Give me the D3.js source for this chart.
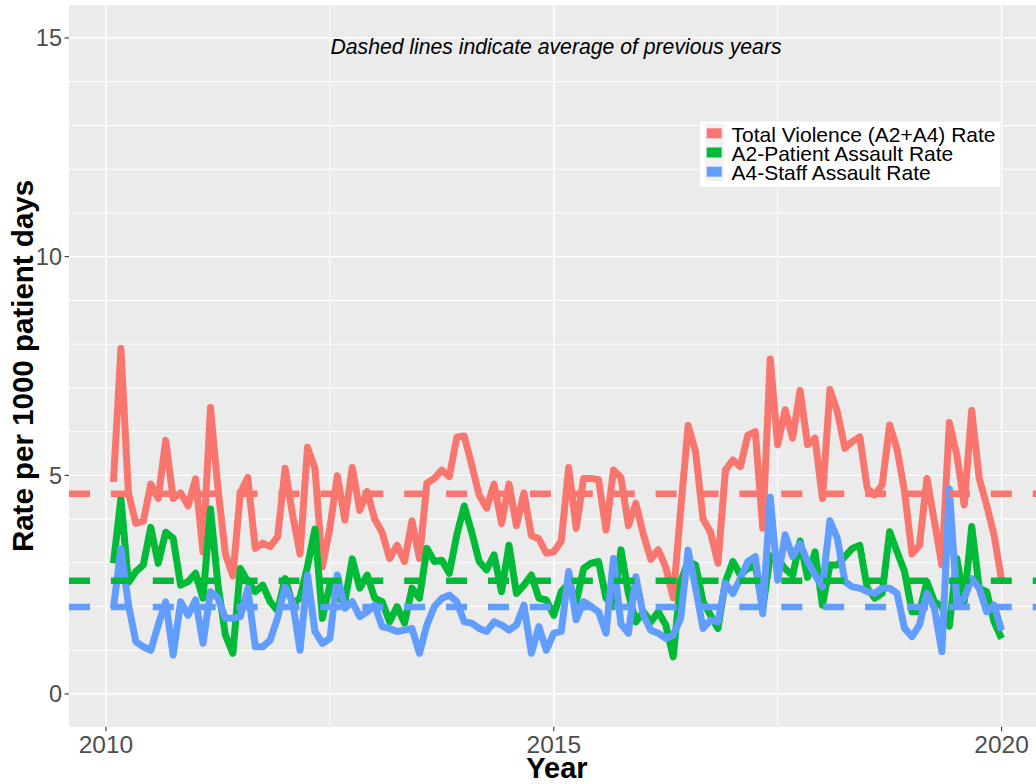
<!DOCTYPE html>
<html>
<head>
<meta charset="utf-8">
<script src="https://cdn.jsdelivr.net/npm/d3@7"></script>
<style>
  html, body { margin: 0; padding: 0; background: #ffffff; }
  svg { display: block; }
  text { font-family: "Liberation Sans", Arial, sans-serif; }
</style>
</head>
<body>
<div id="chart"></div>
<script>
// ---------------- DATA ----------------
const seriesNames = ["Total Violence (A2+A4) Rate", "A2-Patient Assault Rate", "A4-Staff Assault Rate"];
const seriesColors = ["#F8766D", "#00BA38", "#619CFF"];

// monthly rates, Feb 2010 .. Jan 2020
const totalRate = [
  4.85, 7.9, 4.6, 3.9, 3.95, 4.8, 4.47, 5.8, 4.47, 4.6, 4.3, 4.92,
  3.25, 6.55, 4.7, 3.2, 2.7, 4.6, 4.95, 3.33, 3.45, 3.37, 3.6, 5.16,
  4.1, 3.2, 5.64, 5.16, 2.91, 3.8, 4.99, 3.98, 5.18, 4.2, 4.63, 4.0,
  3.7, 3.1, 3.4, 3.03, 3.96, 3.1, 4.82, 4.93, 5.12, 4.97, 5.87, 5.9,
  5.24, 4.55, 4.25, 4.8, 3.9, 4.8, 3.85, 4.6, 3.62, 3.55, 3.22, 3.25,
  3.5, 5.18, 3.79, 4.93, 4.93, 4.9, 3.75, 5.12, 4.95, 3.85, 4.36, 3.65,
  3.08, 3.3, 2.9, 2.2, 4.2, 6.14, 5.54, 4.0, 3.7, 2.99, 5.12, 5.35,
  5.2, 5.92, 6.0, 3.79, 7.66, 5.7, 6.5, 5.85, 6.94, 5.7, 5.85, 4.47,
  6.96, 6.45, 5.62, 5.77, 5.88, 4.7, 4.55, 4.78, 6.15, 5.6, 4.63, 3.2,
  3.4, 4.93, 3.94, 2.95, 6.21, 5.47, 4.32, 6.48, 4.93, 4.32, 3.63, 2.6
];
const patientAssaultRate = [
  2.99, 4.46, 2.55, 2.8, 2.95, 3.81, 2.99, 3.7, 3.56, 2.49, 2.57, 2.76,
  2.19, 4.23, 2.5, 1.35, 0.93, 2.87, 2.57, 2.34, 2.49, 2.11, 1.9, 2.64,
  2.05, 2.2, 2.92, 3.77, 1.73, 2.5, 2.2, 2.1, 3.09, 2.42, 2.72, 2.19,
  2.11, 1.65, 2.0, 1.62, 2.42, 2.19, 3.33, 3.03, 3.06, 2.76, 3.64, 4.3,
  3.7, 3.03, 2.84, 3.18, 2.34, 3.4, 2.3, 2.49, 2.72, 2.19, 2.15, 1.8,
  2.34, 2.53, 2.1, 2.87, 2.99, 3.03, 2.19, 2.0, 3.3, 2.3, 1.65, 1.88,
  1.65, 1.88, 1.58, 0.85, 2.57, 3.03, 2.95, 2.11, 1.8, 1.5, 2.57, 3.03,
  2.72, 2.87, 2.95, 1.95, 3.16, 3.1, 2.86, 2.71, 3.5, 2.67, 3.25, 2.03,
  2.95, 2.95, 3.14, 3.33, 3.4, 2.42, 2.19, 2.3, 3.71, 3.25, 2.8, 1.88,
  1.88, 2.57, 2.11, 2.0, 1.55, 3.1, 2.11, 3.83, 2.42, 2.34, 1.65, 1.27
];
const staffAssaultRate = [
  1.96, 3.32, 2.05, 1.2, 1.08, 1.0, 1.58, 2.11, 0.89, 2.11, 1.8, 2.15,
  1.16, 2.34, 2.19, 1.73, 1.73, 1.77, 2.42, 1.08, 1.08, 1.23, 1.75, 2.45,
  2.11, 1.0, 2.72, 1.43, 1.16, 1.27, 2.72, 1.96, 2.11, 1.77, 1.88, 2.03,
  1.54, 1.5, 1.43, 1.46, 1.5, 0.93, 1.58, 2.0, 2.19, 2.26, 2.11, 1.65,
  1.62, 1.5, 1.43, 1.65, 1.58, 1.46, 1.58, 2.03, 0.93, 1.54, 1.0, 1.39,
  1.43, 2.8, 1.7, 2.11, 2.0, 1.88, 1.39, 3.1, 1.6, 1.39, 2.68, 1.8,
  1.46, 1.39, 1.27, 1.35, 1.73, 3.29, 2.42, 1.5, 1.69, 1.65, 2.53, 2.3,
  2.64, 3.03, 3.14, 1.84, 4.5, 2.6, 3.64, 3.14, 3.44, 3.03, 2.72, 2.45,
  3.96, 3.56, 2.57, 2.45, 2.42, 2.34, 2.3, 2.42, 2.42, 2.3, 1.5, 1.31,
  1.58, 2.3, 1.96, 0.97, 4.69, 2.11, 2.19, 2.64, 2.42, 1.88, 2.03, 1.45
];
// averages of previous years (dashed reference lines)
const averageRates = [4.58, 2.59, 1.99];

const startYear = 2010;
const xTickValues = [2010, 2015, 2020];
const xTickLabels = ["2010", "2015", "2020"];
const yTickValues = [0, 5, 10, 15];
const yTickLabels = ["0", "5", "10", "15"];
const annotationText = "Dashed lines indicate average of previous years";
const xTitle = "Year";
const yTitle = "Rate per 1000 patient days";

// ---------------- CHART ----------------
const W = 1036, H = 784;
const panel = { left: 69, right: 1046, top: 5.2, bottom: 726.8 };

const svg = d3.select("#chart").append("svg")
  .attr("width", W).attr("height", H);

const x = d3.scaleLinear().domain([2009.587, 2020.496]).range([panel.left, panel.right]);
const y = d3.scaleLinear().domain([-0.75, 15.75]).range([panel.bottom, panel.top]);

const defs = svg.append("defs");
defs.append("clipPath").attr("id", "clip").append("rect")
  .attr("x", panel.left).attr("y", panel.top)
  .attr("width", panel.right - panel.left).attr("height", panel.bottom - panel.top);

// panel background
svg.append("rect")
  .attr("x", panel.left).attr("y", panel.top)
  .attr("width", panel.right - panel.left).attr("height", panel.bottom - panel.top)
  .attr("fill", "#EBEBEB");

const grid = svg.append("g").attr("clip-path", "url(#clip)");
// minor horizontal grid (every unit)
const yMinor = d3.range(0, 16).filter(v => yTickValues.indexOf(v) < 0);
grid.selectAll(".ymin").data(yMinor).enter().append("line")
  .attr("x1", panel.left).attr("x2", panel.right)
  .attr("y1", d => y(d)).attr("y2", d => y(d))
  .attr("stroke", "#ffffff").attr("stroke-width", 1);
grid.selectAll(".ymaj").data(yTickValues).enter().append("line")
  .attr("x1", panel.left).attr("x2", panel.right)
  .attr("y1", d => y(d)).attr("y2", d => y(d))
  .attr("stroke", "#ffffff").attr("stroke-width", 1.4);
// vertical grid
const xMinor = [2012.5, 2017.5];
grid.selectAll(".xmin").data(xMinor).enter().append("line")
  .attr("y1", panel.top).attr("y2", panel.bottom)
  .attr("x1", d => x(d)).attr("x2", d => x(d))
  .attr("stroke", "#ffffff").attr("stroke-width", 1);
grid.selectAll(".xmaj").data(xTickValues).enter().append("line")
  .attr("y1", panel.top).attr("y2", panel.bottom)
  .attr("x1", d => x(d)).attr("x2", d => x(d))
  .attr("stroke", "#ffffff").attr("stroke-width", 1.4);

// data lines
const allSeries = [totalRate, patientAssaultRate, staffAssaultRate];
const line = d3.line()
  .x((d, i) => x(startYear + (i + 1) / 12))
  .y(d => y(d));

const plot = svg.append("g").attr("clip-path", "url(#clip)");
allSeries.forEach((s, k) => {
  plot.append("path")
    .datum(s)
    .attr("d", line)
    .attr("fill", "none")
    .attr("stroke", seriesColors[k])
    .attr("stroke-width", 7)
    .attr("stroke-linejoin", "round")
    .attr("stroke-linecap", "butt");
});

// dashed average lines
averageRates.forEach((v, k) => {
  plot.append("line")
    .attr("x1", panel.left).attr("x2", panel.right)
    .attr("y1", y(v)).attr("y2", y(v))
    .attr("stroke", seriesColors[k])
    .attr("stroke-width", 6.5)
    .attr("stroke-dasharray", "21 20.9");
});

// axes ticks
const yAxis = svg.append("g");
yTickValues.forEach((v, i) => {
  yAxis.append("line")
    .attr("x1", panel.left - 4.5).attr("x2", panel.left)
    .attr("y1", y(v)).attr("y2", y(v))
    .attr("stroke", "#333333").attr("stroke-width", 1.1);
  yAxis.append("text")
    .attr("x", panel.left - 7).attr("y", y(v))
    .attr("dy", "0.36em")
    .attr("text-anchor", "end")
    .attr("font-size", 23.5)
    .attr("fill", "#4D4D4D")
    .text(yTickLabels[i]);
});
const xAxis = svg.append("g");
xTickValues.forEach((v, i) => {
  xAxis.append("line")
    .attr("y1", panel.bottom).attr("y2", panel.bottom + 4.5)
    .attr("x1", x(v)).attr("x2", x(v))
    .attr("stroke", "#333333").attr("stroke-width", 1.1);
  xAxis.append("text")
    .attr("x", x(v)).attr("y", 753)
    .attr("text-anchor", "middle")
    .attr("font-size", 24.5)
    .attr("fill", "#4D4D4D")
    .text(xTickLabels[i]);
});

// axis titles
svg.append("text")
  .attr("x", 557).attr("y", 778)
  .attr("text-anchor", "middle")
  .attr("font-size", 29).attr("font-weight", "bold")
  .attr("fill", "#000000")
  .text(xTitle);
svg.append("text")
  .attr("transform", "translate(33," + ((panel.top + panel.bottom) / 2) + ") rotate(-90)")
  .attr("text-anchor", "middle")
  .attr("font-size", 29.5).attr("font-weight", "bold")
  .attr("fill", "#000000")
  .text(yTitle);

// annotation
svg.append("text")
  .attr("x", 556).attr("y", 54)
  .attr("text-anchor", "middle")
  .attr("font-size", 21.2).attr("font-style", "italic")
  .attr("fill", "#000000")
  .text(annotationText);

// legend
const legend = svg.append("g");
legend.append("rect")
  .attr("x", 700).attr("y", 121.5).attr("width", 300).attr("height", 65.5)
  .attr("fill", "#ffffff");
seriesNames.forEach((name, k) => {
  const cy = 133.3 + k * 19.2;
  legend.append("rect")
    .attr("x", 705).attr("y", cy - 9.6).attr("width", 19).attr("height", 19.2)
    .attr("fill", "#F2F2F2");
  legend.append("rect")
    .attr("x", 706.7).attr("y", cy - 5).attr("width", 15).attr("height", 10)
    .attr("fill", seriesColors[k]);
  legend.append("text")
    .attr("x", 731.5).attr("y", cy + 8.5)
    .attr("font-size", 21)
    .attr("fill", "#000000")
    .text(name);
});
</script>
</body>
</html>
